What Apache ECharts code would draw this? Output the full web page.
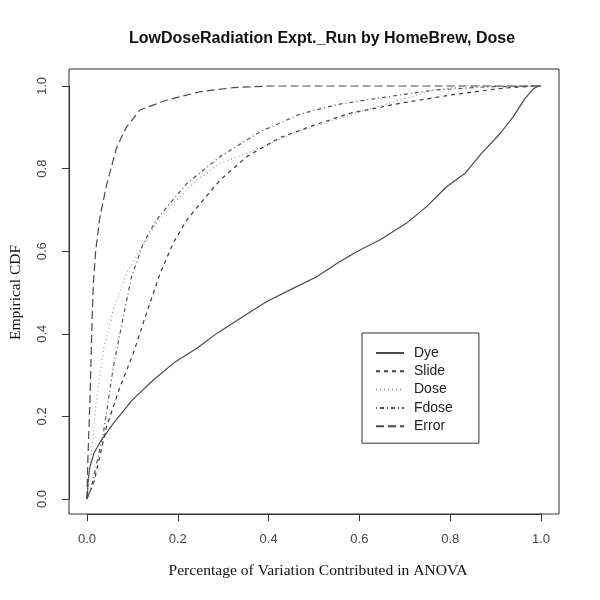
<!DOCTYPE html>
<html>
<head>
<meta charset="utf-8">
<script src="https://cdn.jsdelivr.net/npm/echarts@6/dist/echarts.min.js"></script>
<style>html,body{margin:0;padding:0;background:#fff}#c{width:600px;height:600px}</style>
</head>
<body>
<div id="c"></div>
<script>
// ---- data ----
var seriesNames = ['Dye', 'Slide', 'Dose', 'Fdose', 'Error'];
var tickValues = [0, 0.2, 0.4, 0.6, 0.8, 1.0];
var tickLabels = ['0.0', '0.2', '0.4', '0.6', '0.8', '1.0'];

var dye = [[0,0],[0.003,0.05],[0.007,0.08],[0.015,0.11],[0.03,0.14],[0.058,0.183],[0.10,0.24],[0.146,0.288],[0.194,0.332],[0.242,0.365],[0.286,0.401],[0.337,0.437],[0.396,0.478],[0.454,0.510],[0.506,0.538],[0.557,0.575],[0.601,0.603],[0.645,0.627],[0.704,0.668],[0.748,0.708],[0.792,0.756],[0.833,0.789],[0.869,0.837],[0.91,0.885],[0.939,0.926],[0.965,0.97],[0.984,0.994],[0.995,1.0],[1.0,1.0]];
var slide = [[0,0],[0.0146,0.038],[0.043,0.175],[0.073,0.272],[0.102,0.353],[0.131,0.45],[0.161,0.546],[0.19,0.62],[0.22,0.676],[0.256,0.724],[0.293,0.772],[0.352,0.829],[0.425,0.875],[0.5,0.905],[0.579,0.934],[0.689,0.958],[0.8,0.978],[0.91,0.994],[0.984,1.0],[1.0,1.0]];
var dose = [[0,0],[0.0066,0.078],[0.021,0.24],[0.036,0.361],[0.058,0.458],[0.087,0.546],[0.117,0.603],[0.153,0.668],[0.19,0.716],[0.24,0.77],[0.293,0.813],[0.352,0.837],[0.454,0.885],[0.579,0.93],[0.689,0.966],[0.763,0.99],[0.836,1.0],[1.0,1.0]];
var fdose = [[0,0],[0.01,0.03],[0.036,0.159],[0.058,0.32],[0.08,0.441],[0.098,0.538],[0.124,0.619],[0.153,0.676],[0.183,0.716],[0.22,0.764],[0.293,0.829],[0.381,0.889],[0.469,0.932],[0.55,0.955],[0.65,0.972],[0.763,0.99],[0.881,0.998],[1.0,1.0]];
var error = [[0,0],[0.002,0.1],[0.0066,0.24],[0.0103,0.40],[0.014,0.52],[0.019,0.6],[0.028,0.68],[0.043,0.76],[0.065,0.85],[0.087,0.901],[0.117,0.942],[0.176,0.966],[0.249,0.986],[0.322,0.996],[0.4,1.0],[1.0,1.0]];

var seriesData = [dye, slide, dose, fdose, error];
var seriesColors = ['#4a4a4a', '#3a3a3a', '#9a9a9a', '#555555', '#4a4a4a'];
var seriesDash = ['solid', [4, 4], [1, 3], [1, 3, 4, 3], [8, 4]];

var chart = echarts.init(document.getElementById('c'), null, {renderer: 'canvas'});

var series = seriesNames.map(function (n, i) {
  return {
    name: n,
    type: 'line',
    xAxisIndex: 1,
    yAxisIndex: 1,
    data: seriesData[i],
    symbol: 'none',
    showSymbol: false,
    smooth: false,
    clip: false,
    lineStyle: {color: seriesColors[i], width: 1.2, type: seriesDash[i]},
    itemStyle: {color: seriesColors[i]}
  };
});

function fmt(v) {
  for (var k = 0; k < tickValues.length; k++) {
    if (Math.abs(v - tickValues[k]) < 1e-9) return tickLabels[k];
  }
  return '';
}

var labelFont = {fontFamily: 'Liberation Sans, Arial', fontSize: 13, color: '#444'};

chart.setOption({
  animation: false,
  backgroundColor: '#fff',
  title: {
    text: 'LowDoseRadiation Expt._Run by HomeBrew, Dose',
    left: 317, top: 26, textAlign: 'center',
    textStyle: {fontFamily: 'Liberation Sans, Arial', fontWeight: 'bold', fontSize: 16, color: '#111'}
  },
  grid: [
    {left: 69, right: 41, top: 69, bottom: 86, show: true, borderColor: '#333', borderWidth: 1, backgroundColor: 'transparent', outerBoundsMode: 'none'},
    {left: 87, right: 59, top: 86, bottom: 101, show: false, outerBoundsMode: 'none'}
  ],
  xAxis: [
    {gridIndex: 0, type: 'value', min: 0, max: 1, show: false},
    {
      gridIndex: 1, type: 'value', min: 0, max: 1, interval: 0.2, offset: 15,
      name: 'Percentage of Variation Contributed in ANOVA',
      nameLocation: 'middle', nameGap: 49,
      nameTextStyle: {fontFamily: 'Liberation Serif, Times New Roman', fontSize: 15.6, color: '#111', padding: [0, 0, 0, 8]},
      axisLine: {show: true, onZero: false, lineStyle: {color: '#333', width: 1}},
      splitLine: {show: false},
      axisTick: {show: true, inside: false, length: 7, lineStyle: {color: '#333', width: 1}},
      axisLabel: Object.assign({formatter: fmt, margin: 19, showMinLabel: true, showMaxLabel: true}, labelFont)
    }
  ],
  yAxis: [
    {gridIndex: 0, type: 'value', min: 0, max: 1, show: false},
    {
      gridIndex: 1, type: 'value', min: 0, max: 1, interval: 0.2, offset: 18,
      name: 'Empirical CDF',
      nameLocation: 'middle', nameGap: 45, nameRotate: 90,
      nameTextStyle: {fontFamily: 'Liberation Serif, Times New Roman', fontSize: 15.5, color: '#111'},
      axisLine: {show: true, onZero: false, lineStyle: {color: '#333', width: 1}},
      splitLine: {show: false},
      axisTick: {show: true, inside: false, length: 7, lineStyle: {color: '#333', width: 1}},
      axisLabel: Object.assign({formatter: fmt, margin: 20, rotate: 90, showMinLabel: true, showMaxLabel: true}, labelFont)
    }
  ],
  legend: {
    orient: 'vertical', left: 362, top: 333,
    data: seriesNames,
    borderColor: '#333', borderWidth: 1, borderRadius: 0,
    padding: [13, 26, 10, 13],
    itemWidth: 28, itemHeight: 14, itemGap: 4.3,
    itemStyle: {opacity: 0, color: 'transparent', borderWidth: 0},
    textStyle: {fontFamily: 'Liberation Sans, Arial', fontSize: 14, color: '#222', padding: [0, 0, 0, 5]},
    selectedMode: false
  },
  series: series
});
</script>
</body>
</html>
